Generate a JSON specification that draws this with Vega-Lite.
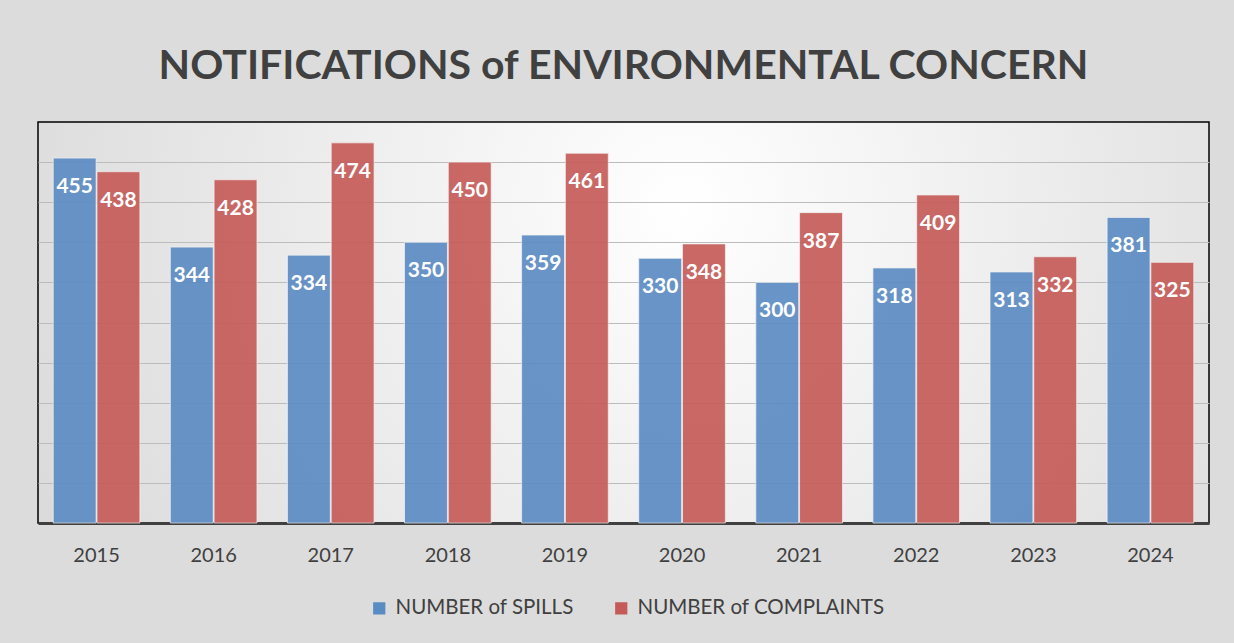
{
  "$schema": "https://vega.github.io/schema/vega-lite/v6.json",
  "autosize": "none",
  "width": 1171,
  "height": 401,
  "padding": {"left": 38, "top": 122, "right": 25, "bottom": 120},
  "background": "#dcdcdc",
  "title": {
    "text": "NOTIFICATIONS of ENVIRONMENTAL CONCERN",
    "font": "Lato",
    "fontSize": 41,
    "fontWeight": "bold",
    "color": "#404040",
    "anchor": "middle",
    "frame": "group",
    "baseline": "alphabetic",
    "offset": 0,
    "dy": -2
  },
  "data": {
    "values": [
      {"year": "2015", "series": "NUMBER of SPILLS", "value": 455},
      {"year": "2016", "series": "NUMBER of SPILLS", "value": 344},
      {"year": "2017", "series": "NUMBER of SPILLS", "value": 334},
      {"year": "2018", "series": "NUMBER of SPILLS", "value": 350},
      {"year": "2019", "series": "NUMBER of SPILLS", "value": 359},
      {"year": "2020", "series": "NUMBER of SPILLS", "value": 330},
      {"year": "2021", "series": "NUMBER of SPILLS", "value": 300},
      {"year": "2022", "series": "NUMBER of SPILLS", "value": 318},
      {"year": "2023", "series": "NUMBER of SPILLS", "value": 313},
      {"year": "2024", "series": "NUMBER of SPILLS", "value": 381},
      {"year": "2015", "series": "NUMBER of COMPLAINTS", "value": 438},
      {"year": "2016", "series": "NUMBER of COMPLAINTS", "value": 428},
      {"year": "2017", "series": "NUMBER of COMPLAINTS", "value": 474},
      {"year": "2018", "series": "NUMBER of COMPLAINTS", "value": 450},
      {"year": "2019", "series": "NUMBER of COMPLAINTS", "value": 461},
      {"year": "2020", "series": "NUMBER of COMPLAINTS", "value": 348},
      {"year": "2021", "series": "NUMBER of COMPLAINTS", "value": 387},
      {"year": "2022", "series": "NUMBER of COMPLAINTS", "value": 409},
      {"year": "2023", "series": "NUMBER of COMPLAINTS", "value": 332},
      {"year": "2024", "series": "NUMBER of COMPLAINTS", "value": 325}
    ]
  },
  "encoding": {
    "x": {
      "field": "year",
      "type": "nominal",
      "scale": {"paddingInner": 0.26, "paddingOuter": 0.13},
      "axis": {
        "title": null,
        "labelAngle": 0,
        "ticks": false,
        "labelFont": "Lato",
        "labelFontSize": 20,
        "labelColor": "#404040",
        "labelPadding": 22,
        "domainColor": "#404040",
        "domainWidth": 3,
        "grid": false
      }
    },
    "xOffset": {
      "field": "series",
      "type": "nominal",
      "sort": ["NUMBER of SPILLS", "NUMBER of COMPLAINTS"],
      "scale": {"paddingInner": 0.02}
    },
    "y": {
      "field": "value",
      "type": "quantitative",
      "scale": {"domain": [0, 500], "nice": false},
      "axis": {
        "title": null,
        "labels": false,
        "ticks": false,
        "domain": false,
        "values": [50, 100, 150, 200, 250, 300, 350, 400, 450],
        "gridColor": "#bcbcbc",
        "gridWidth": 1
      }
    }
  },
  "layer": [
    {
      "mark": {"type": "bar", "stroke": "#f2f2f2", "strokeWidth": 1, "strokeOpacity": 0.7, "fillOpacity": 0.92},
      "encoding": {
        "color": {
          "field": "series",
          "type": "nominal",
          "sort": ["NUMBER of SPILLS", "NUMBER of COMPLAINTS"],
          "scale": {"range": ["#5b8bc3", "#c45b58"]},
          "legend": {
            "title": null,
            "orient": "none",
            "legendX": 331,
            "legendY": 476,
            "padding": 0,
            "direction": "horizontal",
            "symbolType": "square",
            "symbolSize": 150,
            "symbolStrokeWidth": 0,
            "labelFont": "Lato",
            "labelFontSize": 20.5,
            "labelColor": "#404040",
            "labelLimit": 0,
            "columnPadding": 37,
            "symbolOffset": 0,
            "labelOffset": 6
          }
        }
      }
    },
    {
      "mark": {
        "type": "text",
        "color": "white",
        "font": "Lato",
        "fontSize": 21,
        "fontWeight": "bold",
        "baseline": "middle",
        "dy": 29
      },
      "encoding": {
        "text": {"field": "value", "type": "quantitative"}
      }
    }
  ],
  "config": {
    "view": {
      "stroke": "#000000",
      "strokeWidth": 1.5,
      "fill": {
        "gradient": "radial",
        "x1": 0.55, "y1": 0.4, "r1": 0,
        "x2": 0.55, "y2": 0.4, "r2": 0.75,
        "stops": [
          {"offset": 0, "color": "#ffffff"},
          {"offset": 1, "color": "#d2d2d2"}
        ]
      }
    }
  }
}
